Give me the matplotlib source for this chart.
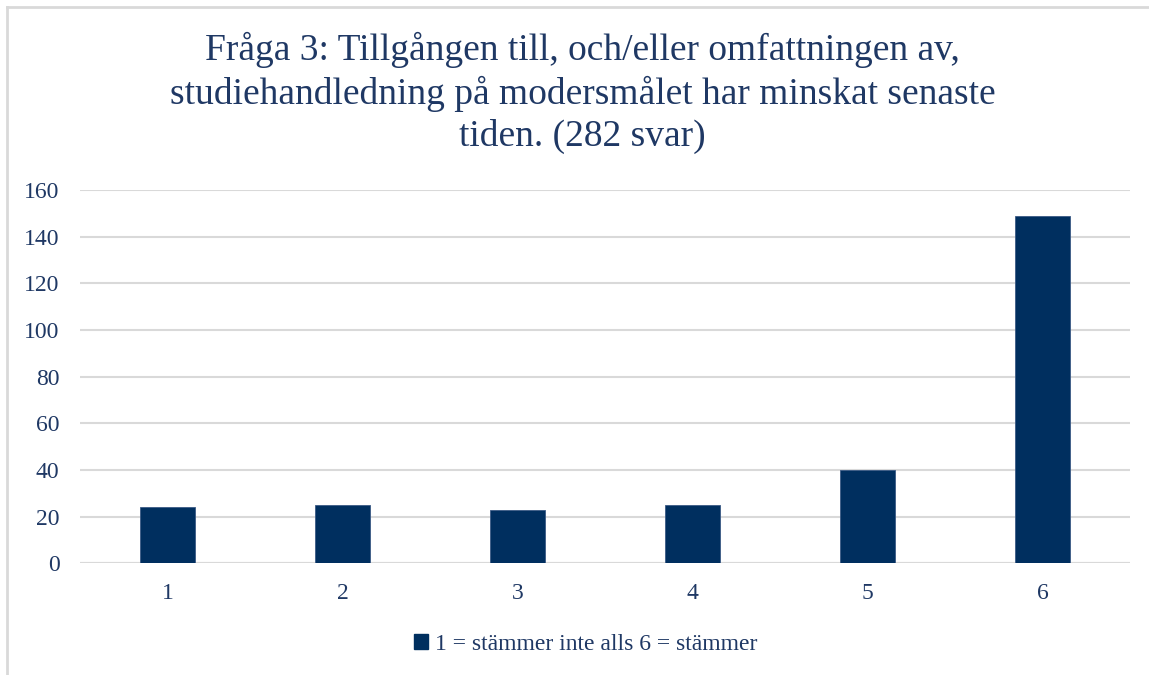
import matplotlib
matplotlib.use("Agg")
import matplotlib.pyplot as plt
from matplotlib.lines import Line2D
from matplotlib.patches import Patch

categories = ["1", "2", "3", "4", "5", "6"]
values = [24, 25, 23, 25, 40, 149]
yticks = [0, 20, 40, 60, 80, 100, 120, 140, 160]
title = "Fråga 3: Tillgången till, och/eller omfattningen av,\nstudiehandledning på modersmålet har minskat senaste\ntiden. (282 svar)"
legend_label = "1 = stämmer inte alls 6 = stämmer"

bar_color = "#002F5F"
text_color = "#1F3864"
grid_color = "#D9D9D9"

plt.rcParams['font.family'] = ['Liberation Serif', 'DejaVu Serif']

fig = plt.figure(figsize=(11.49, 6.75), dpi=100)
ax = fig.add_axes([0.070, 0.1655, 0.9135, 0.553])

x = list(range(len(categories)))
ax.bar(x, values, width=0.314, color=bar_color, edgecolor="#3A5A85", linewidth=0.6, zorder=3)
ax.set_xlim(-0.5, len(categories) - 0.5)
ax.set_ylim(0, 160)
ax.set_yticks(yticks)
ax.set_xticks(x)
ax.set_xticklabels(categories)
ax.yaxis.grid(True, color=grid_color, linewidth=1.5, zorder=0)
ax.set_axisbelow(True)
for s in ax.spines.values():
    s.set_visible(False)
ax.axhline(0, color=grid_color, linewidth=1.5, zorder=1)
ax.tick_params(axis='both', length=0, labelsize=17, colors=text_color)
ax.tick_params(axis='y', pad=15)
ax.tick_params(axis='x', pad=14)

fig.text(0.507, 0.862, title, ha='center', va='center', fontsize=27,
         color=text_color, linespacing=1.26)

handles = [Patch(facecolor=bar_color, edgecolor=bar_color)]
fig.legend(handles, [legend_label], loc='center', bbox_to_anchor=(0.51, 0.045),
           frameon=False, fontsize=17, labelcolor=text_color,
           handlelength=0.6, handleheight=0.6, handletextpad=0.3)

# partial chart frame (left and top edges)
fig.add_artist(Line2D([0.0061, 0.0061], [0, 0.9896], transform=fig.transFigure,
                      color=grid_color, linewidth=2))
fig.add_artist(Line2D([0.0061, 1.0], [0.9896, 0.9896], transform=fig.transFigure,
                      color=grid_color, linewidth=2))

fig.savefig("out.png", dpi=100, facecolor="white")
